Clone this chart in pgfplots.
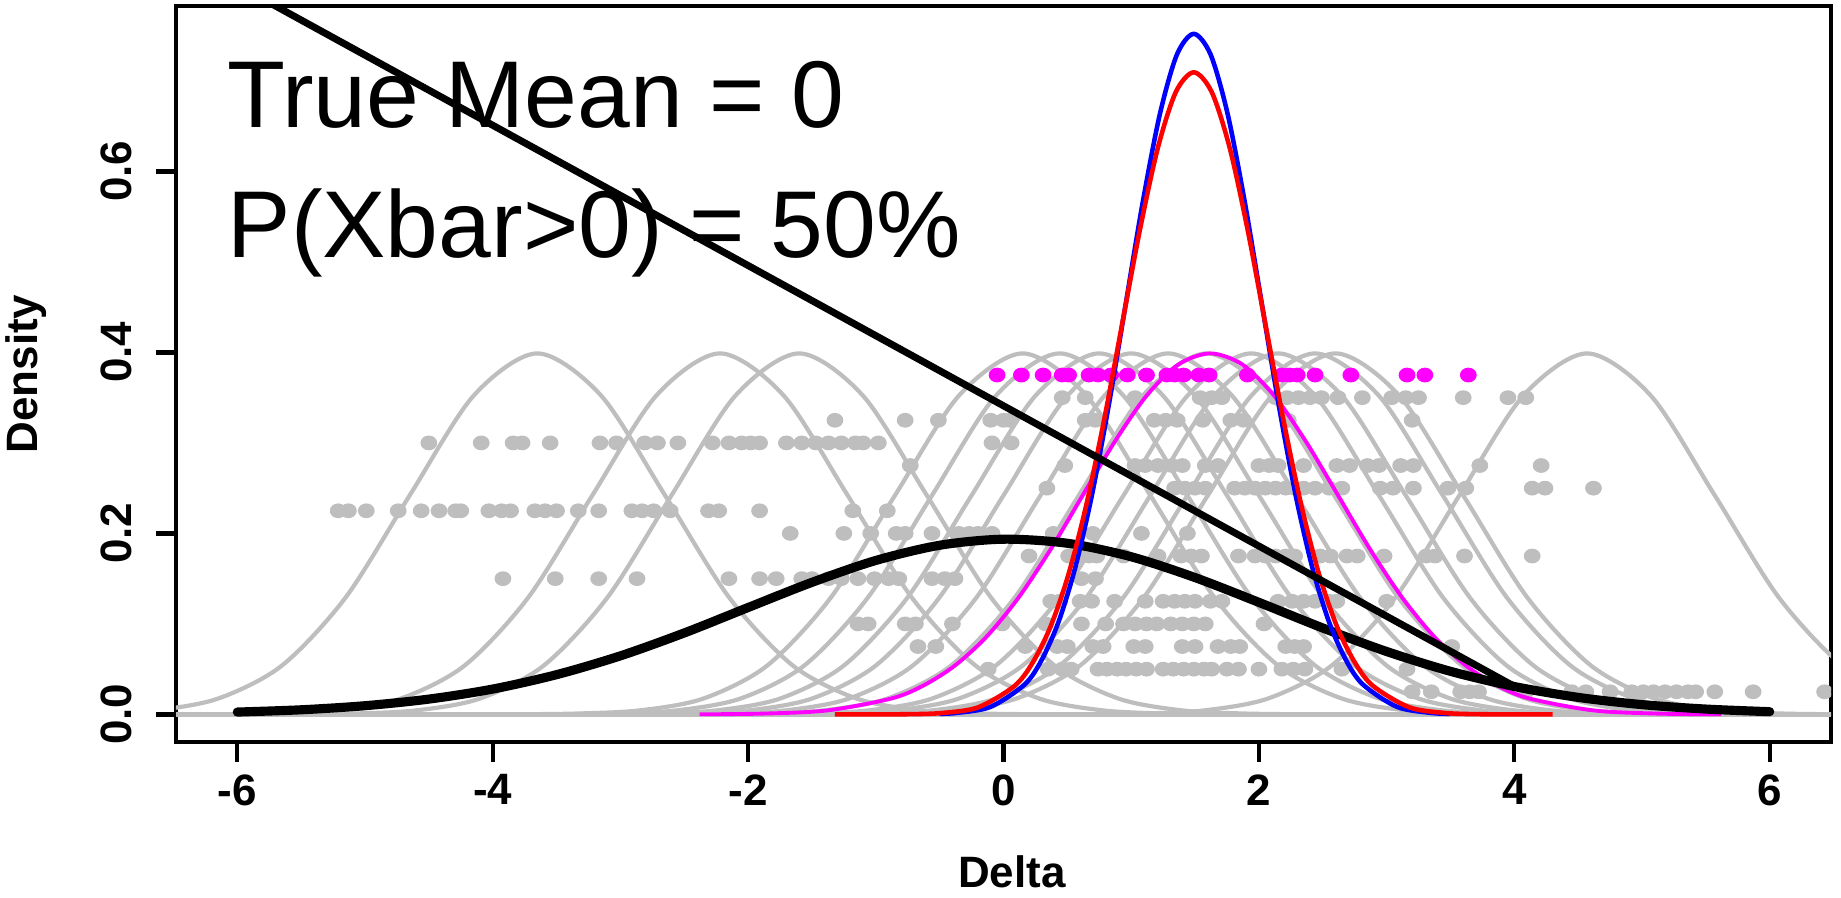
\documentclass[border=0pt]{standalone}
\usepackage{fontspec}
\setmainfont{Liberation Sans}
\usepackage{pgfplots}
\pgfplotsset{compat=1.18}
\usepackage{pgfplotstable}
\definecolor{rgray}{HTML}{BEBEBE}
\definecolor{rmag}{RGB}{255,0,255}
\definecolor{rred}{RGB}{255,0,0}
\definecolor{rblue}{RGB}{0,0,255}

% gray normal curves (sd 1): x positions for each curve, common density column y
\pgfplotstableread{
y g1 g2 g3 g4 g5 g6 g7 g8 g9 g10 g11 g12 g13 g14
0.0001 -7.65 -6.22 -5.60 -3.85 -3.56 -3.25 -3.00 -2.71 -2.41 -2.06 -1.85 -1.56 -1.40 0.57
0.0009 -7.15 -5.72 -5.10 -3.35 -3.06 -2.75 -2.50 -2.21 -1.91 -1.56 -1.35 -1.06 -0.90 1.07
0.0044 -6.65 -5.22 -4.60 -2.85 -2.56 -2.25 -2.00 -1.71 -1.41 -1.06 -0.85 -0.56 -0.40 1.57
0.0175 -6.15 -4.72 -4.10 -2.35 -2.06 -1.75 -1.50 -1.21 -0.91 -0.56 -0.35 -0.06 0.10 2.07
0.0540 -5.65 -4.22 -3.60 -1.85 -1.56 -1.25 -1.00 -0.71 -0.41 -0.06 0.15 0.44 0.60 2.57
0.1295 -5.15 -3.72 -3.10 -1.35 -1.06 -0.75 -0.50 -0.21 0.09 0.44 0.65 0.94 1.10 3.07
0.2420 -4.65 -3.22 -2.60 -0.85 -0.56 -0.25 0.00 0.29 0.59 0.94 1.15 1.44 1.60 3.57
0.3521 -4.15 -2.72 -2.10 -0.35 -0.06 0.25 0.50 0.79 1.09 1.44 1.65 1.94 2.10 4.07
0.3989 -3.65 -2.22 -1.60 0.15 0.44 0.75 1.00 1.29 1.59 1.94 2.15 2.44 2.60 4.57
0.3521 -3.15 -1.72 -1.10 0.65 0.94 1.25 1.50 1.79 2.09 2.44 2.65 2.94 3.10 5.07
0.2420 -2.65 -1.22 -0.60 1.15 1.44 1.75 2.00 2.29 2.59 2.94 3.15 3.44 3.60 5.57
0.1295 -2.15 -0.72 -0.10 1.65 1.94 2.25 2.50 2.79 3.09 3.44 3.65 3.94 4.10 6.07
0.0540 -1.65 -0.22 0.40 2.15 2.44 2.75 3.00 3.29 3.59 3.94 4.15 4.44 4.60 6.57
0.0175 -1.15 0.28 0.90 2.65 2.94 3.25 3.50 3.79 4.09 4.44 4.65 4.94 5.10 7.07
0.0044 -0.65 0.78 1.40 3.15 3.44 3.75 4.00 4.29 4.59 4.94 5.15 5.44 5.60 7.57
0.0009 -0.15 1.28 1.90 3.65 3.94 4.25 4.50 4.79 5.09 5.44 5.65 5.94 6.10 8.07
0.0001 0.35 1.78 2.40 4.15 4.44 4.75 5.00 5.29 5.59 5.94 6.15 6.44 6.60 8.57
}\graytab

\pgfplotstableread{
x y
-2.38 0.0001
-1.88 0.0009
-1.38 0.0044
-0.88 0.0175
-0.63 0.0317
-0.38 0.0540
-0.13 0.0863
0.12 0.1295
0.37 0.1826
0.62 0.2420
0.87 0.3011
1.12 0.3521
1.37 0.3867
1.62 0.3989
1.87 0.3867
2.12 0.3521
2.37 0.3011
2.62 0.2420
2.87 0.1826
3.12 0.1295
3.37 0.0863
3.62 0.0540
3.87 0.0317
4.12 0.0175
4.62 0.0044
5.12 0.0009
5.62 0.0001
}\magtab

\pgfplotstableread{
x y
-6.0 0.0026
-5.5 0.0051
-5.0 0.0096
-4.5 0.0169
-4.0 0.0280
-3.5 0.0439
-3.0 0.0647
-2.5 0.0900
-2.0 0.1181
-1.5 0.1459
-1.0 0.1701
-0.5 0.1869
0.0 0.1936
0.5 0.1891
1.0 0.1742
1.5 0.1512
2.0 0.1238
2.5 0.0955
3.0 0.0695
3.5 0.0476
4.0 0.0308
4.5 0.0188
5.0 0.0108
5.5 0.0059
6.0 0.0030
}\blacktab

\pgfplotstableread{
x y
-0.50 0.0007
-0.365 0.0017
-0.10 0.0084
0.165 0.0330
0.2975 0.0598
0.43 0.1018
0.5625 0.1626
0.695 0.2441
0.8275 0.3443
0.96 0.4561
1.0925 0.5676
1.225 0.6636
1.3575 0.7289
1.49 0.7520
1.6225 0.7289
1.755 0.6636
1.8875 0.5676
2.02 0.4561
2.1525 0.3443
2.285 0.2441
2.4175 0.1626
2.55 0.1018
2.6825 0.0598
2.815 0.0330
3.08 0.0084
3.345 0.0017
3.50 0.0007
}\bluetab

\pgfplotstableread{
x y
-1.32 0.0000
-0.7592 0.0002
-0.478 0.0016
-0.1969 0.0079
0.0842 0.0312
0.2248 0.0564
0.3654 0.0960
0.5060 0.1534
0.6465 0.2303
0.7871 0.3248
0.9277 0.4303
1.0683 0.5356
1.2088 0.6261
1.3494 0.6877
1.49 0.7095
1.6306 0.6877
1.7712 0.6261
1.9117 0.5356
2.0523 0.4303
2.1929 0.3248
2.3335 0.2303
2.4740 0.1534
2.6146 0.0960
2.7552 0.0564
2.8958 0.0312
3.1769 0.0079
3.458 0.0016
3.7392 0.0002
4.30 0.0000
}\redtab

\begin{document}
\begin{tikzpicture}
\useasboundingbox (-17.6mm,-15.5mm) rectangle (166.5mm,74.2mm);
\begin{axis}[
  scale only axis,
  width=165.5mm, height=73.6mm,
  xmin=-6.48, xmax=6.48, ymin=-0.0305, ymax=0.7828,
  axis line style={line width=1.2pt},
  tick align=outside,
  major tick length=2mm,
  every tick/.style={line width=1.2pt, black},
  xtick={-6,-4,-2,0,2,4,6}, xticklabels={-6,-4,-2,0,2,4,6},
  ytick={0,0.2,0.4,0.6}, yticklabels={0.0,0.2,0.4,0.6},
  xtick pos=bottom, ytick pos=left,
  ticklabel style={font=\fontsize{12.5}{15}\selectfont\bfseries},
  yticklabel style={xshift=-2.4mm, rotate=90, anchor=base},
  xlabel={Delta}, ylabel={Density},
  label style={font=\fontsize{12.5}{15}\selectfont\bfseries},
  xlabel style={at={(axis description cs:0.505,-0.197)}, anchor=base},
  ylabel style={at={(axis description cs:-0.0835,0.5)}, anchor=base},
  clip marker paths=true,
  gcurve/.style={rgray, line width=1.2pt, smooth},
  gdot/.style={only marks, mark=*, rgray, mark size=1.9pt, mark options={xscale=1.15}},
]
\addplot[rgray, line width=1.2pt] coordinates {(-6.48,0)(6.48,0)};
\pgfplotsinvokeforeach{1,...,14}{
  \addplot[gcurve] table[x=g#1, y=y] {\graytab};
}
% gray sample rows
\addplot[gdot] coordinates {(-5.21,0.225)(-5.13,0.225)(-4.99,0.225)(-4.74,0.225)(-4.56,0.225)(-4.42,0.225)(-4.29,0.225)(-4.25,0.225)(-4.03,0.225)(-3.93,0.225)(-3.86,0.225)(-3.67,0.225)(-3.59,0.225)(-3.50,0.225)(-3.33,0.225)(-3.17,0.225)(-2.91,0.225)(-2.83,0.225)(-2.74,0.225)(-2.61,0.225)(-2.31,0.225)(-2.23,0.225)(-1.91,0.225)(-1.18,0.225)(-0.91,0.225)};
\addplot[gdot] coordinates {(-4.50,0.3)(-4.09,0.3)(-3.84,0.3)(-3.77,0.3)(-3.55,0.3)(-3.16,0.3)(-3.03,0.3)(-2.81,0.3)(-2.71,0.3)(-2.55,0.3)(-2.28,0.3)(-2.15,0.3)(-2.05,0.3)(-1.98,0.3)(-1.91,0.3)(-1.70,0.3)(-1.58,0.3)(-1.47,0.3)(-1.37,0.3)(-1.27,0.3)(-1.16,0.3)(-1.10,0.3)(-0.98,0.3)(-0.09,0.3)(0.06,0.3)};
\addplot[gdot] coordinates {(-3.92,0.15)(-3.51,0.15)(-3.17,0.15)(-2.87,0.15)(-2.15,0.15)(-1.91,0.15)(-1.78,0.15)(-1.58,0.15)(-1.50,0.15)(-1.37,0.15)(-1.27,0.15)(-1.14,0.15)(-1.01,0.15)(-0.90,0.15)(-0.82,0.15)(-0.56,0.15)(-0.46,0.15)(-0.38,0.15)(0.61,0.15)(0.72,0.15)};
\addplot[gdot] coordinates {(-1.67,0.2)(-1.25,0.2)(-1.04,0.2)(-0.84,0.2)(-0.77,0.2)(-0.56,0.2)(-0.35,0.2)(-0.27,0.2)(-0.20,0.2)(-0.09,0.2)(0.39,0.2)(0.70,0.2)(1.08,0.2)(1.44,0.2)};
\addplot[gdot] coordinates {(-1.14,0.1)(-1.06,0.1)(-0.77,0.1)(-0.69,0.1)(-0.40,0.1)(-0.01,0.1)(0.33,0.1)(0.61,0.1)(0.80,0.1)(0.94,0.1)(1.03,0.1)(1.12,0.1)(1.20,0.1)(1.31,0.1)(1.40,0.1)(1.49,0.1)(1.58,0.1)(2.04,0.1)};
\addplot[gdot] coordinates {(-1.32,0.325)(-0.77,0.325)(-0.51,0.325)(-0.10,0.325)(0.0,0.325)(0.05,0.325)(0.64,0.325)(0.72,0.325)(1.18,0.325)(1.27,0.325)(1.36,0.325)(1.56,0.325)(1.78,0.325)(1.88,0.325)(2.23,0.325)(3.20,0.325)};
\addplot[gdot] coordinates {(-0.67,0.075)(-0.53,0.075)(0.17,0.075)(0.42,0.075)(0.50,0.075)(0.70,0.075)(0.78,0.075)(1.02,0.075)(1.11,0.075)(1.40,0.075)(1.50,0.075)(1.68,0.075)(1.78,0.075)(1.85,0.075)(2.21,0.075)(2.28,0.075)(2.35,0.075)(3.51,0.075)};
\addplot[gdot] coordinates {(-0.12,0.05)(0.35,0.05)(0.46,0.05)(0.53,0.05)(0.74,0.05)(0.81,0.05)(0.89,0.05)(0.96,0.05)(1.04,0.05)(1.12,0.05)(1.25,0.05)(1.33,0.05)(1.41,0.05)(1.49,0.05)(1.57,0.05)(1.63,0.05)(1.75,0.05)(1.84,0.05)(2.00,0.05)(2.18,0.05)(2.27,0.05)(2.36,0.05)(2.65,0.05)(3.16,0.05)};
\addplot[gdot] coordinates {(0.37,0.125)(0.44,0.125)(0.60,0.125)(0.69,0.125)(0.87,0.125)(1.11,0.125)(1.25,0.125)(1.34,0.125)(1.42,0.125)(1.50,0.125)(1.62,0.125)(1.71,0.125)(2.15,0.125)(2.26,0.125)(2.35,0.125)(2.44,0.125)(2.55,0.125)(2.61,0.125)(3.00,0.125)};
\addplot[gdot] coordinates {(0.20,0.175)(0.51,0.175)(0.59,0.175)(0.67,0.175)(0.73,0.175)(0.94,0.175)(1.21,0.175)(1.39,0.175)(1.47,0.175)(1.55,0.175)(1.84,0.175)(1.97,0.175)(2.05,0.175)(2.13,0.175)(2.21,0.175)(2.28,0.175)(2.48,0.175)(2.56,0.175)(2.69,0.175)(2.77,0.175)(2.98,0.175)(3.31,0.175)(3.38,0.175)(3.61,0.175)(4.14,0.175)};
\addplot[gdot] coordinates {(-0.73,0.275)(0.48,0.275)(1.03,0.275)(1.11,0.275)(1.21,0.275)(1.32,0.275)(1.40,0.275)(1.58,0.275)(1.68,0.275)(2.00,0.275)(2.08,0.275)(2.15,0.275)(2.35,0.275)(2.61,0.275)(2.71,0.275)(2.85,0.275)(2.94,0.275)(3.11,0.275)(3.21,0.275)(3.73,0.275)(4.21,0.275)};
\addplot[gdot] coordinates {(0.46,0.35)(0.64,0.35)(1.03,0.35)(1.54,0.35)(1.63,0.35)(1.71,0.35)(2.13,0.35)(2.22,0.35)(2.31,0.35)(2.40,0.35)(2.49,0.35)(2.62,0.35)(2.81,0.35)(3.04,0.35)(3.15,0.35)(3.25,0.35)(3.60,0.35)(3.95,0.35)(4.09,0.35)};
\addplot[gdot] coordinates {(0.34,0.25)(1.34,0.25)(1.42,0.25)(1.50,0.25)(1.58,0.25)(1.81,0.25)(1.89,0.25)(1.97,0.25)(2.05,0.25)(2.13,0.25)(2.21,0.25)(2.28,0.25)(2.35,0.25)(2.44,0.25)(2.55,0.25)(2.65,0.25)(2.95,0.25)(3.05,0.25)(3.21,0.25)(3.48,0.25)(3.62,0.25)(4.14,0.25)(4.24,0.25)(4.62,0.25)};
\addplot[gdot] coordinates {(3.20,0.025)(3.35,0.025)(3.58,0.025)(3.65,0.025)(3.72,0.025)(4.09,0.025)(4.45,0.025)(4.56,0.025)(4.75,0.025)(4.92,0.025)(5.01,0.025)(5.09,0.025)(5.18,0.025)(5.27,0.025)(5.36,0.025)(5.42,0.025)(5.57,0.025)(5.87,0.025)(6.43,0.025)};
% magenta sample
\addplot[only marks, mark=*, rmag, mark size=1.9pt, mark options={xscale=1.15}] coordinates {(-0.05,0.375)(0.14,0.375)(0.31,0.375)(0.46,0.375)(0.51,0.375)(0.67,0.375)(0.74,0.375)(0.84,0.375)(0.97,0.375)(1.12,0.375)(1.28,0.375)(1.34,0.375)(1.41,0.375)(1.53,0.375)(1.61,0.375)(1.91,0.375)(2.18,0.375)(2.24,0.375)(2.30,0.375)(2.44,0.375)(2.72,0.375)(3.16,0.375)(3.30,0.375)(3.64,0.375)};
\addplot[rmag, line width=1.1pt, smooth] table {\magtab};
\addplot[black, line width=2.6pt, line cap=round, smooth] table {\blacktab};
\addplot[rblue, line width=1.3pt, smooth] table {\bluetab};
\addplot[rred, line width=1.3pt, smooth] table {\redtab};
\addplot[black, line width=2.0pt] coordinates {(-6,0.806)(4.0,0.031)};
\node[anchor=base west, inner sep=0pt, font=\fontsize{27}{32}\selectfont] at (axis cs:-6.08,0.649) {True Mean = 0};
\node[anchor=base west, inner sep=0pt, font=\fontsize{27}{32}\selectfont] at (axis cs:-6.08,0.5048) {P(Xbar>0) = 50\%};
\end{axis}
\end{tikzpicture}
\end{document}
